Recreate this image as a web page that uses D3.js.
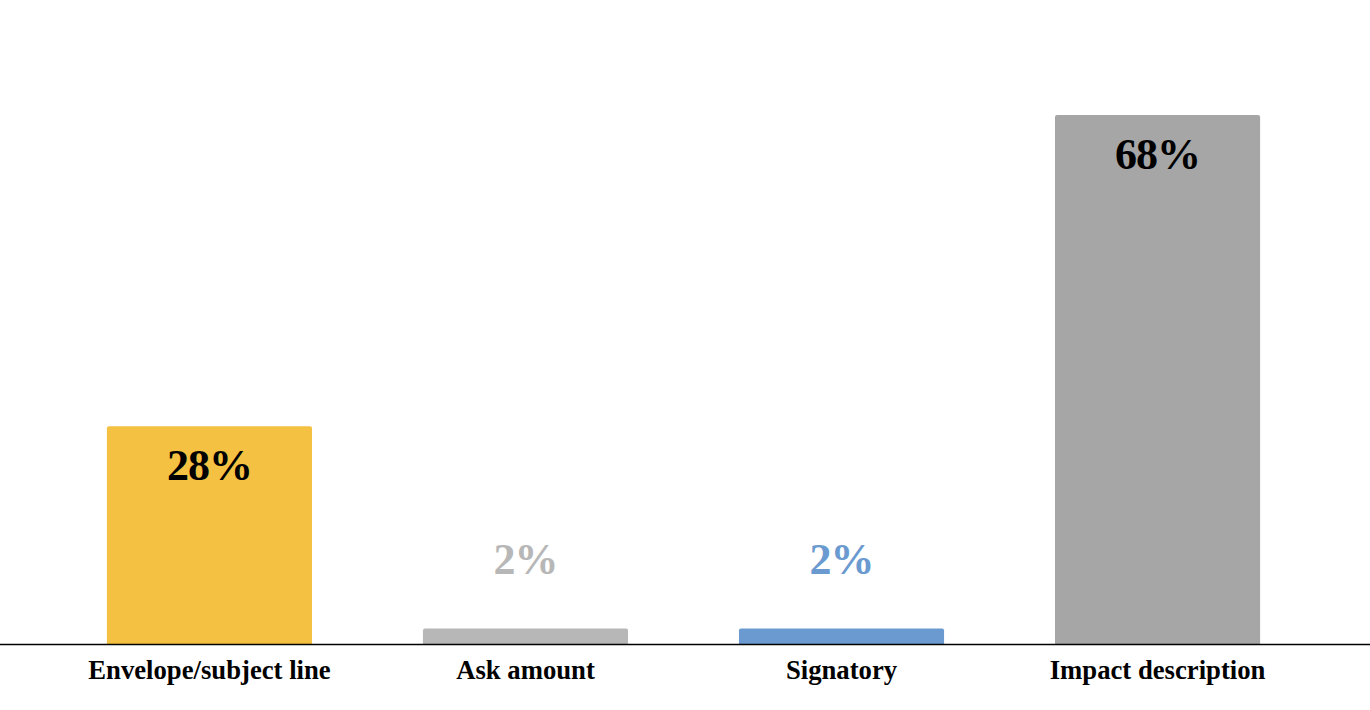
<!DOCTYPE html>
<html>
<head>
<meta charset="utf-8">
<script src="https://cdn.jsdelivr.net/npm/d3@7"></script>
<style>
  body { margin: 0; background: #fff; }
  text { font-family: "Liberation Serif", "Times New Roman", serif; font-weight: bold; }
</style>
</head>
<body>
<script>
var categories = ['Envelope/subject line', 'Ask amount', 'Signatory', 'Impact description'];
var values = [28, 2, 2, 68];
var colors = ['#F4C142', '#B7B7B7', '#6A9AD0', '#A6A6A6'];

var width = 1370;
var height = 710;
var baseline = 644;

var data = categories.map(function(c, i) {
  return { name: c, value: values[i], color: colors[i] };
});

var svg = d3.select('body')
  .append('svg')
  .attr('width', width)
  .attr('height', height);

var x = d3.scaleBand()
  .domain(categories)
  .range([-1.5, width - 1.5])
  .paddingInner(0.351)
  .paddingOuter(0.343);

var y = d3.scaleLinear()
  .domain([0, 68])
  .range([baseline, 115]);

// bars with slightly rounded top corners
svg.selectAll('.bar')
  .data(data)
  .enter()
  .append('path')
  .attr('class', 'bar')
  .attr('fill', function(d) { return d.color; })
  .attr('d', function(d) {
    var x0 = x(d.name), x1 = x0 + x.bandwidth();
    var top = y(d.value), r = 2;
    return 'M' + x0 + ',' + baseline +
      'V' + (top + r) + 'Q' + x0 + ',' + top + ' ' + (x0 + r) + ',' + top +
      'H' + (x1 - r) + 'Q' + x1 + ',' + top + ' ' + x1 + ',' + (top + r) +
      'V' + baseline + 'Z';
  });

// value labels: inside tall bars, above short ones
svg.selectAll('.value')
  .data(data)
  .enter()
  .append('text')
  .attr('class', 'value')
  .attr('x', function(d) { return x(d.name) + x.bandwidth() / 2; })
  .attr('y', function(d) {
    return d.value > 10 ? y(d.value) + 54 : y(d.value) - 54;
  })
  .attr('text-anchor', 'middle')
  .attr('font-size', 44)
  .attr('letter-spacing', -1)
  .attr('fill', function(d) { return d.value > 10 ? '#000' : d.color; })
  .text(function(d) { return d.value + '%'; });

// baseline axis
var axis = svg.append('g')
  .attr('transform', 'translate(0,' + baseline + ')')
  .call(d3.axisBottom(x).tickSize(0).tickPadding(0));

axis.select('.domain')
  .attr('d', 'M0,0.5H' + width)
  .attr('stroke', '#000')
  .attr('stroke-width', 1.5);

axis.selectAll('.tick text')
  .attr('y', 35)
  .attr('dy', 0)
  .attr('font-size', 26.7)
  .attr('font-family', '"Liberation Serif", "Times New Roman", serif')
  .attr('font-weight', 'bold')
  .attr('fill', '#000');
</script>
</body>
</html>
